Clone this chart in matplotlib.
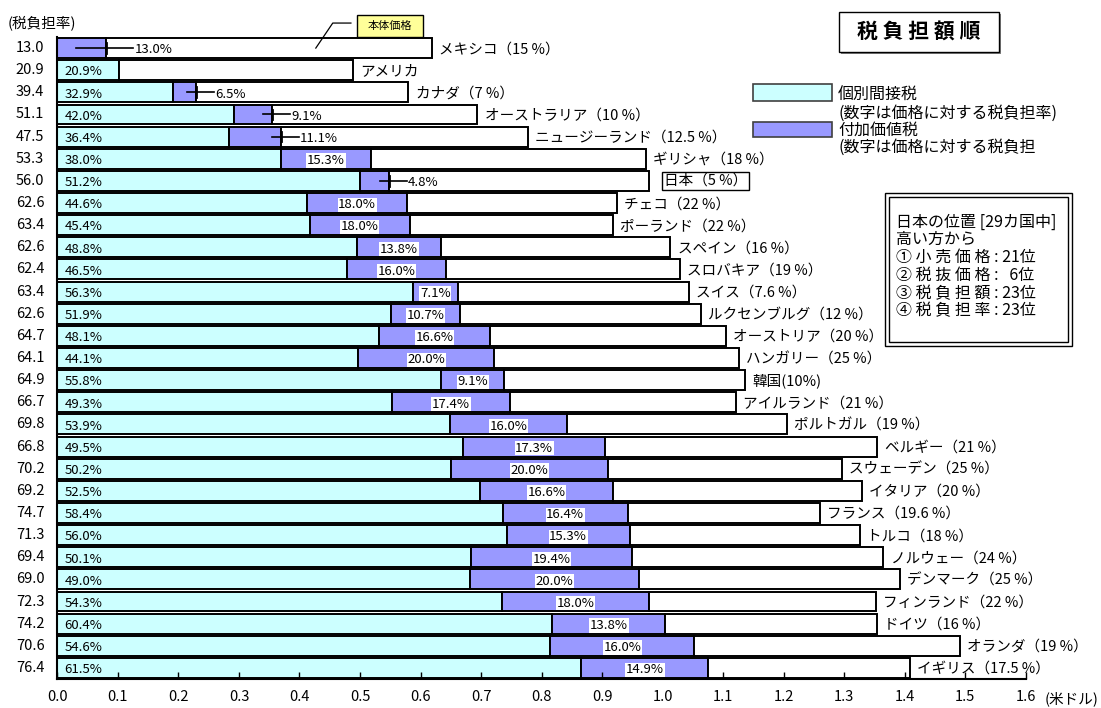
import numpy as np
import matplotlib
matplotlib.use('Agg')
import matplotlib.pyplot as plt
from matplotlib.patches import Rectangle

plt.rcParams['font.family'] = ['Noto Sans CJK JP', 'DejaVu Sans']

W, H = 1101, 708

# countries in order of tax burden (top -> bottom)
countries = ['メキシコ（15 %）', 'アメリカ', 'カナダ（7 %）', 'オーストラリア（10 %）',
             'ニュージーランド（12.5 %）', 'ギリシャ（18 %）', '日本（5 %）', 'チェコ（22 %）',
             'ポーランド（22 %）', 'スペイン（16 %）', 'スロバキア（19 %）', 'スイス（7.6 %）',
             'ルクセンブルグ（12 %）', 'オーストリア（20 %）', 'ハンガリー（25 %）', '韓国(10%)',
             'アイルランド（21 %）', 'ポルトガル（19 %）', 'ベルギー（21 %）', 'スウェーデン（25 %）',
             'イタリア（20 %）', 'フランス（19.6 %）', 'トルコ（18 %）', 'ノルウェー（24 %）',
             'デンマーク（25 %）', 'フィンランド（22 %）', 'ドイツ（16 %）', 'オランダ（19 %）',
             'イギリス（17.5 %）']
burden_rate = [13.0, 20.9, 39.4, 51.1, 47.5, 53.3, 56.0, 62.6, 63.4, 62.6, 62.4, 63.4, 62.6,
               64.7, 64.1, 64.9, 66.7, 69.8, 66.8, 70.2, 69.2, 74.7, 71.3, 69.4, 69.0, 72.3,
               74.2, 70.6, 76.4]
excise_pct = [0.0, 20.9, 32.9, 42.0, 36.4, 38.0, 51.2, 44.6, 45.4, 48.8, 46.5, 56.3, 51.9,
              48.1, 44.1, 55.8, 49.3, 53.9, 49.5, 50.2, 52.5, 58.4, 56.0, 50.1, 49.0, 54.3,
              60.4, 54.6, 61.5]
vat_pct = [13.0, 0.0, 6.5, 9.1, 11.1, 15.3, 4.8, 18.0, 18.0, 13.8, 16.0, 7.1, 10.7,
           16.6, 20.0, 9.1, 17.4, 16.0, 17.3, 20.0, 16.6, 16.4, 15.3, 19.4, 20.0, 18.0,
           13.8, 16.0, 14.9]
# retail price in US dollars
retail = [0.619, 0.489, 0.580, 0.694, 0.777, 0.972, 0.978, 0.924, 0.918, 1.013, 1.028,
          1.043, 1.063, 1.105, 1.126, 1.137, 1.121, 1.205, 1.355, 1.296, 1.329, 1.260,
          1.326, 1.365, 1.392, 1.353, 1.354, 1.491, 1.408]
xticks = np.arange(0, 1.61, 0.1)
leader_rows = [0, 2, 3, 4, 6]
japan_row = 6

info_lines = ['日本の位置 [29カ国中]', '高い方から', '① 小 売 価 格 : 21位',
              '② 税 抜 価 格 :   6位', '③ 税 負 担 額 : 23位', '④ 税 負 担 率 : 23位']

retail_a = np.array(retail)
excise = retail_a * np.array(excise_pct) / 100
vat = retail_a * np.array(vat_pct) / 100
body = retail_a - excise - vat
rows = np.arange(len(countries))


def fx(px):
    return px / W


def fy(py):
    return 1 - py / H


fig = plt.figure(figsize=(W / 100, H / 100), dpi=100)
ax = fig.add_axes([fx(57.4), fy(679), (1025.7 - 57.4) / W, 642 / H])

kw = dict(height=0.9, edgecolor='black', linewidth=1.4)
ax.barh(rows, excise, color='#CCFFFF', **kw)
ax.barh(rows, vat, left=excise, color='#9999FF', **kw)
ax.barh(rows, body, left=excise + vat, color='white', **kw)

for r in rows:
    if excise_pct[r] > 0:
        ax.text(0.012, r + 0.08, f'{excise_pct[r]:.1f}%', fontsize=9.5, va='center', ha='left')
    end = excise[r] + vat[r]
    if r in leader_rows:
        x0 = end - (0.05 if r == 0 else 0.015)
        x1 = end + (0.045 if r == 0 else 0.03)
        ax.plot([x0, x1], [r, r], color='black', lw=1.2)
        ax.plot([end, end], [r - 0.22, r + 0.22], color='black', lw=2)
        ax.text(x1 + 0.002, r + 0.08, f'{vat_pct[r]:.1f}%', fontsize=9.5, va='center', ha='left')
    elif vat_pct[r] > 0:
        ax.text(excise[r] + vat[r] / 2, r + 0.08, f'{vat_pct[r]:.1f}%', fontsize=9.5,
                va='center', ha='center',
                bbox=dict(boxstyle='square,pad=0.05', fc='white', ec='none'))
    # country name with VAT rate
    if r == japan_row:
        ax.text(retail[r] + 0.024, r, countries[r], fontsize=10.5, va='center', ha='left',
                bbox=dict(boxstyle='square,pad=0.15', fc='white', ec='black', lw=1))
    else:
        ax.text(retail[r] + 0.012, r + 0.05, countries[r], fontsize=10.5, va='center', ha='left')
    # tax burden rate at the left
    ax.text(-0.045, r, f'{burden_rate[r]:.1f}', fontsize=10.5, va='center', ha='center',
            clip_on=False)

ax.set_xlim(0, 1.6)
ax.set_ylim(len(rows) - 0.5, -0.5)
ax.set_xticks(xticks)
ax.set_xticklabels([f'{t:.1f}' for t in xticks], fontsize=10.5)
ax.tick_params(axis='x', direction='in', length=5, width=1, pad=8)
ax.set_yticks([])
for s in ['top', 'right']:
    ax.spines[s].set_visible(False)
ax.spines['bottom'].set_linewidth(1.5)
ax.spines['left'].set_linewidth(1.5)

fig.text(fx(8), fy(23), '(税負担率)', fontsize=10.5, va='center', ha='left')
fig.text(fx(1045), fy(699), '(米ドル)', fontsize=10.5, va='center', ha='left')

# callout for the white segment
ax.plot([0.427, 0.455, 0.485], [0.0, -1.13, -1.13], color='black', lw=0.9, clip_on=False)
fig.add_artist(Rectangle((fx(357), fy(37)), 66 / W, 22 / H, transform=fig.transFigure,
                         fc='#FFFF99', ec='black', lw=1))
fig.text(fx(390), fy(26), '本体価格', fontsize=8, va='center', ha='center')

# title box with shadow
fig.add_artist(Rectangle((fx(841), fy(54)), 160 / W, 40 / H, transform=fig.transFigure,
                         fc='#808080', ec='none'))
fig.add_artist(Rectangle((fx(839), fy(52)), 160 / W, 40 / H, transform=fig.transFigure,
                         fc='white', ec='black', lw=1))
fig.text(fx(919), fy(32), '税 負 担 額 順', fontsize=15, fontweight='bold', va='center', ha='center')

# legend
fig.add_artist(Rectangle((fx(753), fy(101)), 79 / W, 17 / H, transform=fig.transFigure,
                         fc='#CCFFFF', ec='#404040', lw=1.2))
fig.add_artist(Rectangle((fx(753), fy(137)), 79 / W, 15 / H, transform=fig.transFigure,
                         fc='#9999FF', ec='#404040', lw=1.2))
for py, s in zip([95, 113, 130, 147], ['個別間接税', '(数字は価格に対する税負担率)',
                                       '付加価値税', '(数字は価格に対する税負担']):
    fig.text(fx(838), fy(py), s, fontsize=11.5, va='center', ha='left')

# info box (double border)
fig.add_artist(Rectangle((fx(885), fy(346)), 187 / W, 153 / H, transform=fig.transFigure,
                         fc='white', ec='black', lw=1))
fig.add_artist(Rectangle((fx(889), fy(342)), 179 / W, 145 / H, transform=fig.transFigure,
                         fc='none', ec='black', lw=1))
for i, s in enumerate(info_lines):
    fig.text(fx(896), fy(222 + 17.8 * i), s, fontsize=11.5, va='center', ha='left')

fig.savefig('out.png', dpi=100)
